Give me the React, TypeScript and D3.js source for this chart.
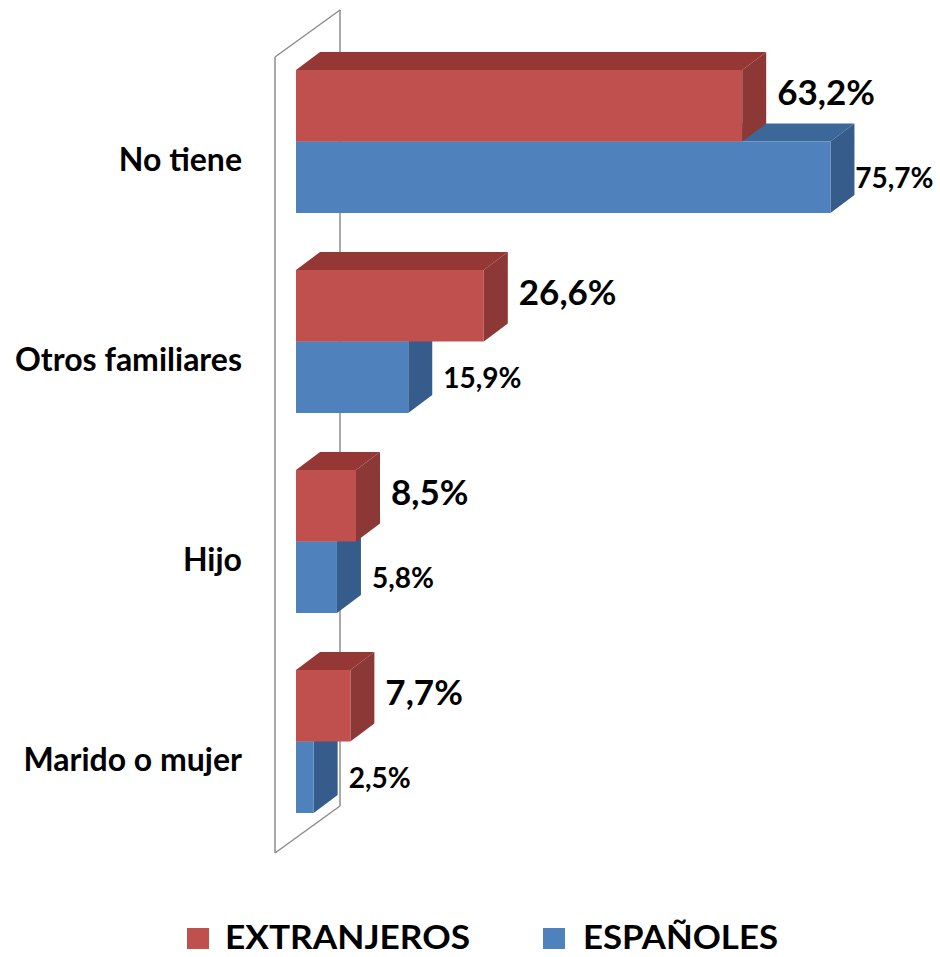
import React from "react";
import * as d3 from "d3";

const categories = ["No tiene", "Otros familiares", "Hijo", "Marido o mujer"];
const extranjeros = [63.2, 26.6, 8.5, 7.7];
const espanoles = [75.7, 15.9, 5.8, 2.5];
const seriesNames = ["EXTRANJEROS", "ESPAÑOLES"];

const W = 940;
const H = 957;
const FONT = "Lato, 'Open Sans', 'DejaVu Sans', sans-serif";

const RED = { front: "#C0504D", top: "#953735", side: "#8C3836" };
const BLUE = { front: "#4F81BD", top: "#3C6899", side: "#355C8B" };

const fmt = (v: number) => v.toFixed(1).replace(".", ",") + "%";

export default function App() {
  const x = d3.scaleLinear().domain([0, 80]).range([296, 296 + 80 * 7.06]);
  const y = d3
    .scaleBand<string>()
    .domain(categories)
    .range([41.5, 841.5])
    .paddingInner(0.285)
    .paddingOuter(0.1425);
  const bw = y.bandwidth();
  const half = bw / 2;
  const dx = 24;
  const dy = -18;

  // wall
  const wallX = 275;
  const wallTop = 57;
  const wallBot = 853;
  const wdx = 65;
  const wdy = -47;

  const bar = (x0: number, x1: number, top: number, h: number, c: typeof RED, key: string) => (
    <g key={key}>
      <polygon
        points={`${x0},${top} ${x0 + dx},${top + dy} ${x1 + dx},${top + dy} ${x1},${top}`}
        fill={c.top}
      />
      <polygon
        points={`${x1},${top} ${x1 + dx},${top + dy} ${x1 + dx},${top + h + dy} ${x1},${top + h}`}
        fill={c.side}
      />
      <rect x={x0} y={top} width={x1 - x0} height={h} fill={c.front} />
    </g>
  );

  return (
    <svg
      width={W}
      height={H}
      style={{ position: "absolute", left: 0, top: 0, background: "#fff" }}
      fontFamily={FONT}
    >
      <rect width={W} height={H} fill="#fff" />
      {/* back wall */}
      <g stroke="#8c8c8c" strokeWidth={1.5} fill="none">
        <line x1={wallX} y1={wallTop} x2={wallX} y2={wallBot} />
        <line x1={wallX + wdx} y1={wallTop + wdy} x2={wallX + wdx} y2={wallBot + wdy} />
        <line x1={wallX} y1={wallTop} x2={wallX + wdx} y2={wallTop + wdy} />
        <line x1={wallX} y1={wallBot} x2={wallX + wdx} y2={wallBot + wdy} />
      </g>

      {categories.map((cat, i) => {
        const top = y(cat)!;
        return (
          <g key={cat}>
            {bar(x(0), x(espanoles[i]), top + half, half, BLUE, "b")}
            {bar(x(0), x(extranjeros[i]), top, half, RED, "r")}
          </g>
        );
      })}

      {/* category labels */}
      {categories.map((cat) => (
        <text
          key={cat}
          x={242}
          y={y(cat)! + bw / 2 + 17}
          textAnchor="end"
          dominantBaseline="central"
          fontSize={32}
          fontWeight="bold"
          fill="#000"
        >
          {cat}
        </text>
      ))}

      {/* value labels */}
      {categories.map((cat, i) => {
        const top = y(cat)!;
        const rx = x(extranjeros[i]) + dx + 11;
        const bxRaw = x(espanoles[i]) + dx + 11;
        const bx = Math.min(bxRaw, W - 6 - 2.81 * 28);
        return (
          <g key={cat} fontWeight="bold" fill="#000">
            <text x={rx} y={top + half / 2 - 15} dominantBaseline="central" fontSize={35}>
              {fmt(extranjeros[i])}
            </text>
            <text x={bx} y={top + half + half / 2} dominantBaseline="central" fontSize={28}>
              {fmt(espanoles[i])}
            </text>
          </g>
        );
      })}

      {/* legend */}
      <g fontWeight="bold" fontSize={32} fill="#000">
        <rect x={187} y={928} width={22} height={21} fill={RED.front} />
        <text x={225} y={949} textLength={245} lengthAdjust="spacingAndGlyphs">
          {seriesNames[0]}
        </text>
        <rect x={543} y={928} width={22} height={21} fill={BLUE.front} />
        <text x={583} y={949} textLength={195} lengthAdjust="spacingAndGlyphs">
          {seriesNames[1]}
        </text>
      </g>
    </svg>
  );
}
